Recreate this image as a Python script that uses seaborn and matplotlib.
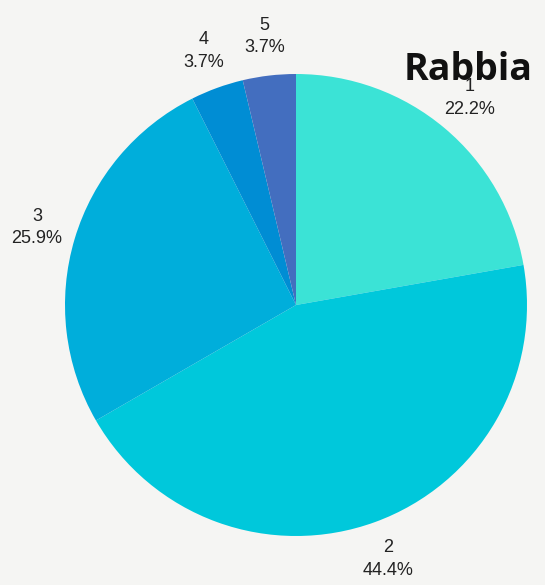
import matplotlib
matplotlib.use("Agg")
import matplotlib.pyplot as plt
import seaborn as sns

# data
categories = ["1", "2", "3", "4", "5"]
counts = [6, 12, 7, 1, 1]
slice_colors = ["#3be3d6", "#00c8db", "#00aedb", "#008dd4", "#436ebf"]

sns.set_theme(style="white")
plt.rcParams['font.family'] = ['Liberation Sans', 'DejaVu Sans']

palette = sns.color_palette(slice_colors)

fig = plt.figure(figsize=(5.45, 5.85), dpi=100, facecolor="#f5f5f3")
# pie centre at (296, 305) px, radius ~231 px
ax = fig.add_axes([65 / 545, 49 / 585, 462 / 545, 462 / 585])
ax.set_facecolor("none")

total = sum(counts)
labels = [f"{c}\n{v / total * 100:.1f}%" for c, v in zip(categories, counts)]

wedges, texts = ax.pie(counts, labels=labels, colors=palette, startangle=90,
                       counterclock=False, labeldistance=1.17, radius=1,
                       wedgeprops=dict(linewidth=0))
for t in texts:
    t.set_ha("center")
    t.set_va("center")
    t.set_fontsize(13)
    t.set_linespacing(1.45)
    t.set_color("#222222")

ax.set_xlim(-1, 1)
ax.set_ylim(-1, 1)
ax.set_aspect("equal")
ax.axis("off")

fig.text(533 / 545, 1 - 80 / 585, "Rabbia", ha="right", va="baseline",
         fontsize=27, fontweight="bold", family=["Open Sans", "DejaVu Sans"],
         color="#111111")

fig.savefig("out.png", dpi=100, facecolor=fig.get_facecolor())
